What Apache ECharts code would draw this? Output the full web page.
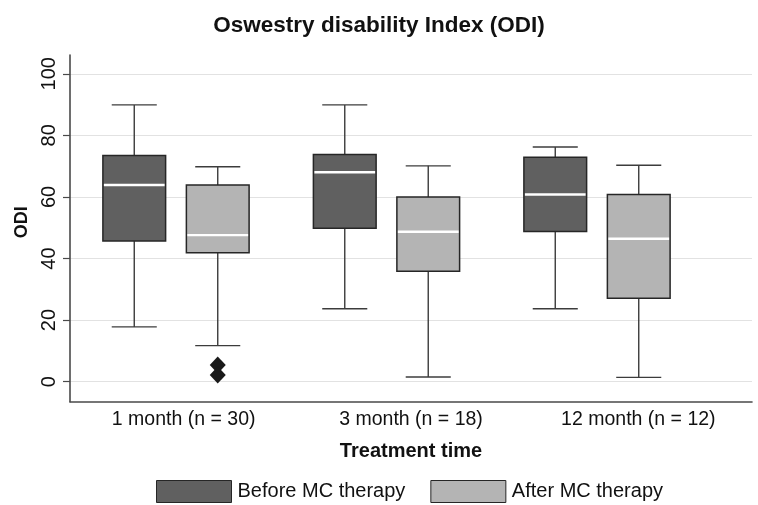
<!DOCTYPE html>
<html><head><meta charset="utf-8">
<script src="https://cdn.jsdelivr.net/npm/echarts@6/dist/echarts.min.js"></script>
<style>html,body{margin:0;padding:0;background:#fff}#c{width:758px;height:505px}</style>
</head><body><div id="c"></div>
<script>
const categories = ['1 month (n = 30)', '3 month (n = 18)', '12 month (n = 12)'];
const seriesNames = ['Before MC therapy', 'After MC therapy'];
// [lower whisker, Q1, median, Q3, upper whisker]
const beforeStats = [[17.8, 45.7, 63.9, 73.5, 89.9], [23.7, 49.8, 68.0, 73.8, 89.9], [23.7, 48.8, 60.8, 72.9, 76.2]];
const afterStats = [[11.7, 41.9, 47.6, 63.9, 69.8], [1.5, 35.9, 48.7, 60.0, 70.1], [1.4, 27.1, 46.4, 60.8, 70.3]];
const afterOutliers = [[0, 5.4], [0, 2.2]];
const yTicks = [0, 20, 40, 60, 80, 100];

const Y_MIN = -6.5, Y_MAX = 106.1;
const OFFSET = 0.1983, BOXW = 0.298, CAPW = 0.214;
const FONT = 'Liberation Sans, Arial, Helvetica, sans-serif';

function boxRender(side, fill) {
  return function (params, api) {
    const ci = api.value(0);
    const band = api.size([1, 0])[0];
    const c = api.coord([ci, 0])[0] + side * OFFSET * band;
    const y = k => api.coord([ci, api.value(k)])[1];
    const lo = y(1), q1 = y(2), md = y(3), q3 = y(4), hi = y(5);
    const bw = BOXW * band, cw = CAPW * band;
    const ls = { stroke: '#3c3c3c', lineWidth: 1.4 };
    return {
      type: 'group', children: [
        { type: 'line', shape: { x1: c, y1: lo, x2: c, y2: q1 }, style: ls },
        { type: 'line', shape: { x1: c, y1: q3, x2: c, y2: hi }, style: ls },
        { type: 'line', shape: { x1: c - cw / 2, y1: lo, x2: c + cw / 2, y2: lo }, style: ls },
        { type: 'line', shape: { x1: c - cw / 2, y1: hi, x2: c + cw / 2, y2: hi }, style: ls },
        { type: 'rect', shape: { x: c - bw / 2, y: q3, width: bw, height: q1 - q3 }, style: { fill: fill, stroke: '#262626', lineWidth: 1.5 } },
        { type: 'line', shape: { x1: c - bw / 2 + 1, y1: md, x2: c + bw / 2 - 1, y2: md }, style: { stroke: '#ffffff', lineWidth: 2.4 } }
      ]
    };
  };
}

function outlierRender(side) {
  return function (params, api) {
    const ci = api.value(0);
    const band = api.size([1, 0])[0];
    const c = api.coord([ci, 0])[0] + side * OFFSET * band;
    const yy = api.coord([ci, api.value(1)])[1];
    const w = 8, h = 8.5;
    return { type: 'polygon', shape: { points: [[c, yy - h], [c + w, yy], [c, yy + h], [c - w, yy]] }, style: { fill: '#1a1a1a' } };
  };
}

const chart = echarts.init(document.getElementById('c'), null, { renderer: 'canvas' });
chart.setOption({
  animation: false,
  backgroundColor: '#fff',
  title: {
    text: 'Oswestry disability Index (ODI)', left: 'center', top: 9,
    textStyle: { fontFamily: FONT, fontSize: 22.5, fontWeight: 'bold', color: '#111' }
  },
  legend: {
    left: 151, top: 475, itemWidth: 75, itemHeight: 22, itemGap: 25,
    textStyle: { fontFamily: FONT, fontSize: 20, color: '#111', padding: [0, 0, 0, 1] },
    data: [
      { name: seriesNames[0], icon: 'rect', itemStyle: { color: '#606060', borderColor: '#262626', borderWidth: 1 } },
      { name: seriesNames[1], icon: 'rect', itemStyle: { color: '#b4b4b4', borderColor: '#262626', borderWidth: 1 } }
    ]
  },
  grid: [
    { left: 70, right: 6, top: 55, bottom: 103.3, outerBoundsMode: 'none' },
    { left: 70.75, width: 631.5, top: 55, bottom: 103.3, outerBoundsMode: 'none' }
  ],
  xAxis: [
    {
      type: 'category', gridIndex: 0, data: categories, boundaryGap: true,
      name: 'Treatment time', nameLocation: 'middle', nameGap: 40,
      nameTextStyle: { fontFamily: FONT, fontSize: 20, fontWeight: 'bold', color: '#111' },
      axisLine: { onZero: false, lineStyle: { color: '#4a4a4a', width: 1.6 } },
      axisTick: { show: false },
      axisLabel: { margin: 8, fontFamily: FONT, fontSize: 19.5, color: '#111' },
      splitLine: { show: false }
    },
    { type: 'category', gridIndex: 1, data: categories, show: false }
  ],
  yAxis: [
    {
      type: 'value', gridIndex: 0, min: Y_MIN, max: Y_MAX,
      name: 'ODI', nameLocation: 'middle', nameGap: 39, nameRotate: 90,
      nameTextStyle: { fontFamily: FONT, fontSize: 18, fontWeight: 'bold', color: '#111', padding: [0, 0, 0, 12] },
      axisLine: { show: true, onZero: false, lineStyle: { color: '#4a4a4a', width: 1.6 } },
      axisTick: { show: true, length: 7, customValues: yTicks, lineStyle: { color: '#4a4a4a', width: 1.2 } },
      axisLabel: { rotate: 90, margin: 11, customValues: yTicks, fontFamily: FONT, fontSize: 20, color: '#111' },
      splitLine: { show: true, lineStyle: { color: '#e2e2e2', width: 1.2 } }
    },
    { type: 'value', gridIndex: 1, min: Y_MIN, max: Y_MAX, show: false, splitLine: { show: false } }
  ],
  series: [
    {
      name: seriesNames[0], type: 'custom', xAxisIndex: 1, yAxisIndex: 1,
      itemStyle: { color: '#606060' }, renderItem: boxRender(-1, '#606060'),
      encode: { x: 0, y: [1, 2, 3, 4, 5] },
      data: beforeStats.map((s, i) => [i].concat(s))
    },
    {
      name: seriesNames[1], type: 'custom', xAxisIndex: 1, yAxisIndex: 1,
      itemStyle: { color: '#b4b4b4' }, renderItem: boxRender(1, '#b4b4b4'),
      encode: { x: 0, y: [1, 2, 3, 4, 5] },
      data: afterStats.map((s, i) => [i].concat(s))
    },
    {
      name: 'outliers', type: 'custom', xAxisIndex: 1, yAxisIndex: 1,
      renderItem: outlierRender(1), encode: { x: 0, y: 1 },
      data: afterOutliers
    }
  ]
});
</script></body></html>
